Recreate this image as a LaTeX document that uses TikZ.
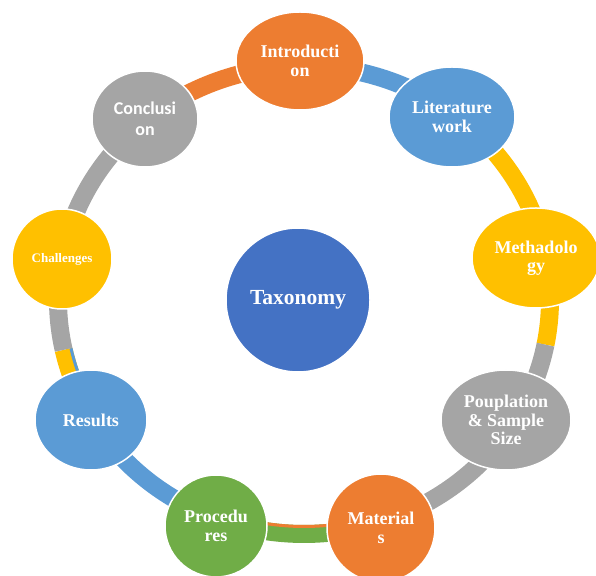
\documentclass[tikz,border=0pt]{standalone}
\usepackage{fontspec}
\setmainfont{Liberation Serif}
\newfontfamily\calibfont{Carlito}
\usetikzlibrary{shapes.geometric}

\definecolor{orng}{HTML}{ED7D31}
\definecolor{blu}{HTML}{5B9BD5}
\definecolor{yel}{HTML}{FFC000}
\definecolor{gry}{HTML}{A5A5A5}
\definecolor{grn}{HTML}{70AD47}
\definecolor{dblu}{HTML}{4472C4}

\tikzset{
  bubble/.style={shape=ellipse, draw=white, line width=1.5pt, inner sep=0pt,
    text=white, align=center, font=\bfseries\fontsize{18}{18.5}\selectfont},
  ringband/.style={line width=18pt},
  ringstrip/.style={line width=3pt}
}

% one piece of the elliptic band around the centre
\newcommand\ringarc[4][ringband]{%
  \draw[#1,#2] (O) ++(#3:246pt and 234pt)
    arc[start angle=#3, end angle=#4, x radius=246pt, y radius=234pt];}
% thin stripe along the inner edge of the band
\newcommand\innerarc[3]{%
  \draw[ringstrip,#1] (O) ++(#2:238.5pt and 226.5pt)
    arc[start angle=#2, end angle=#3, x radius=238.5pt, y radius=226.5pt];}

\begin{document}
\begin{tikzpicture}[x=1pt,y=1pt]
  \useasboundingbox (0,0) rectangle (596,575);
  \clip (0,0) rectangle (596,575);
  \coordinate (O) at (304,275);

  % band segments between the outer bubbles
  \ringarc{orng}{130}{91}
  \ringarc{blu}{91}{52.4}
  \ringarc{yel}{52.4}{10.8}
  \ringarc{yel}{10.8}{-11}
  \ringarc{gry}{-11}{-32}
  \ringarc{gry}{-32}{-72.2}
  \ringarc{grn}{-72.2}{-110.4}
  \innerarc{orng}{-72.2}{-110.4}
  \ringarc{blu}{-110.4}{-149.4}
  \ringarc{yel}{-149.4}{-167.7}
  \innerarc{blu}{-149.4}{-167.7}
  \ringarc{gry}{-167.7}{-190}
  \ringarc{gry}{-190}{-230}

  % outer bubbles
  \node[bubble, fill=orng, minimum width=128pt, minimum height=98pt] (intro) at (300,514) {Introducti\\on};
  \node[bubble, fill=blu, minimum width=126pt, minimum height=100pt] (lit) at (452,458) {Literature\\work};
  \node[bubble, fill=yel, minimum width=128pt, minimum height=100pt] (meth) at (536,317) {Methadolo\\gy};
  \node[bubble, fill=gry, minimum width=130pt, minimum height=100pt] (pop) at (506,155) {Pouplation\\\& Sample\\Size};
  \node[bubble, fill=orng, minimum width=108pt, minimum height=108pt] (mat) at (381,47) {Material\\s};
  \node[bubble, fill=grn, minimum width=102pt, minimum height=102pt] (proc) at (216,49) {Procedu\\res};
  \node[bubble, fill=blu, minimum width=112pt, minimum height=100pt] (res) at (91,155) {Results};
  \node[bubble, fill=yel, minimum width=100pt, minimum height=100pt,
        font=\bfseries\fontsize{13}{14}\selectfont] (chal) at (62,316) {Challenges};
  \node[bubble, fill=gry, minimum width=106pt, minimum height=96pt,
        font=\calibfont\bfseries\fontsize{18}{21}\selectfont] (concl) at (145,456) {Conclusi\\on};

  % centre bubble
  \node[bubble, fill=dblu, minimum width=144pt, minimum height=144pt,
        font=\bfseries\fontsize{21.5}{24}\selectfont] (tax) at (298,275) {Taxonomy};
\end{tikzpicture}
\end{document}
